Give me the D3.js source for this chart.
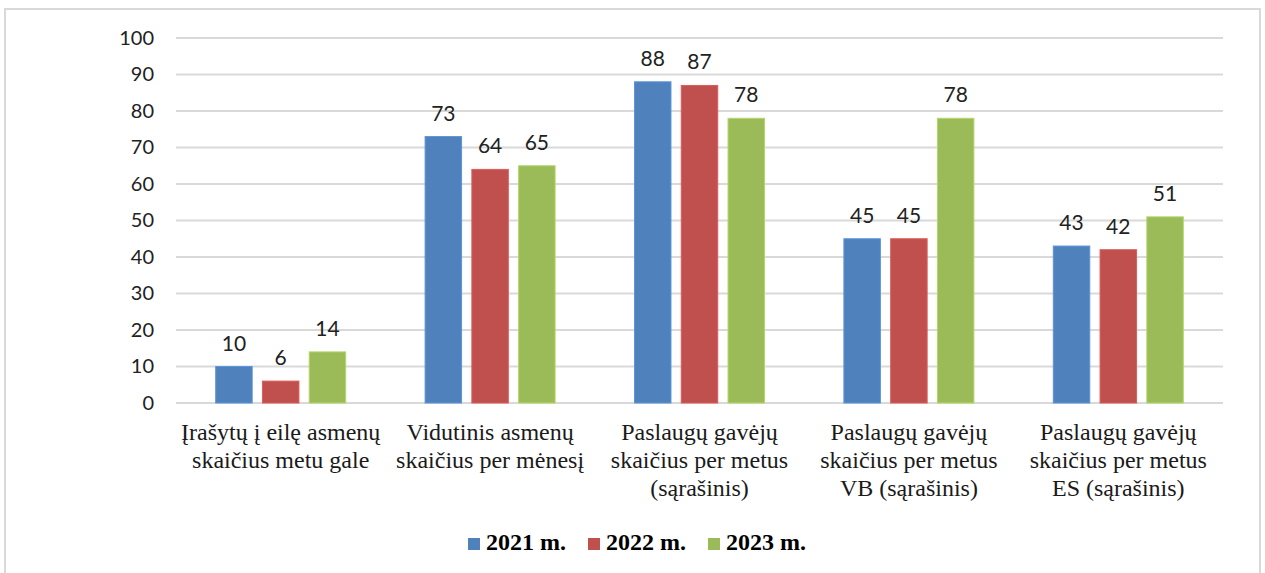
<!DOCTYPE html>
<html>
<head>
<meta charset="utf-8">
<script src="https://d3js.org/d3.v7.min.js"></script>
<style>
	body { margin: 0; background: #fff; }
</style>
</head>
<body>
<svg id="container"></svg>
<script>
// data
const categories = [
	['Įrašytų į eilę asmenų', 'skaičius metu gale'],
	['Vidutinis asmenų', 'skaičius per mėnesį'],
	['Paslaugų gavėjų', 'skaičius per metus', '(sąrašinis)'],
	['Paslaugų gavėjų', 'skaičius per metus', 'VB (sąrašinis)'],
	['Paslaugų gavėjų', 'skaičius per metus', 'ES (sąrašinis)']
];
const seriesNames = ['2021 m.', '2022 m.', '2023 m.'];
const values2021 = [10, 73, 88, 45, 43];
const values2022 = [6, 64, 87, 45, 42];
const values2023 = [14, 65, 78, 78, 51];
const yTicks = [0, 10, 20, 30, 40, 50, 60, 70, 80, 90, 100];
const colors = ['#4F81BD', '#C0504D', '#9BBB59'];

const allSeries = [values2021, values2022, values2023];
const sansFont = 'Lato, Carlito, "Open Sans", sans-serif';
const serifFont = '"Liberation Serif", "Times New Roman", serif';

let svg = d3.select('#container')
	.attr('width', 1265)
	.attr('height', 573);

// outer frame
svg.append('rect')
	.attr('x', 5).attr('y', 9)
	.attr('width', 1255).attr('height', 580)
	.attr('fill', '#fff')
	.attr('stroke', '#d9d9d9')
	.attr('stroke-width', 2);

let plotLeft = 176, plotRight = 1223, plotTop = 38, plotBottom = 403;

let x = d3.scaleBand()
	.domain(d3.range(categories.length))
	.range([plotLeft, plotRight]);

let xInner = d3.scaleBand()
	.domain(d3.range(seriesNames.length))
	.range([0, 130])
	.paddingInner(0.22);

let y = d3.scaleLinear()
	.domain([0, 100])
	.range([plotBottom, plotTop]);

// gridlines
svg.append('g')
	.selectAll('line')
	.data(yTicks)
	.join('line')
	.attr('x1', plotLeft).attr('x2', plotRight)
	.attr('y1', d => y(d)).attr('y2', d => y(d))
	.attr('stroke', '#d9d9d9')
	.attr('stroke-width', 2);

// y axis labels
let yAxis = svg.append('g')
	.attr('transform', `translate(${plotLeft - 10},0)`)
	.call(d3.axisLeft(y).tickValues(yTicks).tickSize(0).tickPadding(12));
yAxis.select('.domain').remove();
yAxis.selectAll('text')
	.attr('font-family', sansFont)
	.attr('font-size', 20)
	.attr('fill', '#222');

// bars
let groups = svg.append('g')
	.selectAll('g')
	.data(categories)
	.join('g')
	.attr('transform', (d, i) => `translate(${x(i) + x.bandwidth() / 2 - 65},0)`);

groups.each(function(c, i) {
	let g = d3.select(this);
	allSeries.forEach((s, j) => {
		g.append('rect')
			.attr('x', xInner(j))
			.attr('y', y(s[i]))
			.attr('width', xInner.bandwidth())
			.attr('height', y(0) - y(s[i]))
			.attr('fill', colors[j])
			.attr('stroke', d3.color(colors[j]).brighter(0.4))
			.attr('stroke-width', 1);
		g.append('text')
			.attr('x', xInner(j) + xInner.bandwidth() / 2)
			.attr('y', y(s[i]) - 16)
			.attr('text-anchor', 'middle')
			.attr('font-family', sansFont)
			.attr('font-size', 21)
			.attr('fill', '#222')
			.text(s[i]);
	});
});

// category labels
let catLabels = svg.append('g')
	.selectAll('text')
	.data(categories)
	.join('text')
	.attr('x', (d, i) => x(i) + x.bandwidth() / 2)
	.attr('y', 440)
	.attr('text-anchor', 'middle')
	.attr('font-family', serifFont)
	.attr('font-size', 24)
	.attr('fill', '#1a1a1a');
catLabels.each(function(lines) {
	let t = d3.select(this);
	lines.forEach((l, k) => {
		t.append('tspan')
			.attr('x', t.attr('x'))
			.attr('dy', k === 0 ? 0 : 28)
			.text(l);
	});
});

// legend
let legend = svg.append('g')
	.selectAll('g')
	.data(seriesNames)
	.join('g')
	.attr('transform', (d, i) => `translate(${468 + i * 120},538)`);
legend.append('rect')
	.attr('width', 12).attr('height', 12)
	.attr('fill', (d, i) => colors[i]);
legend.append('text')
	.attr('x', 18).attr('y', 12)
	.attr('font-family', serifFont)
	.attr('font-weight', 'bold')
	.attr('font-size', 24)
	.attr('fill', '#000')
	.text(d => d);
</script>
</body>
</html>
